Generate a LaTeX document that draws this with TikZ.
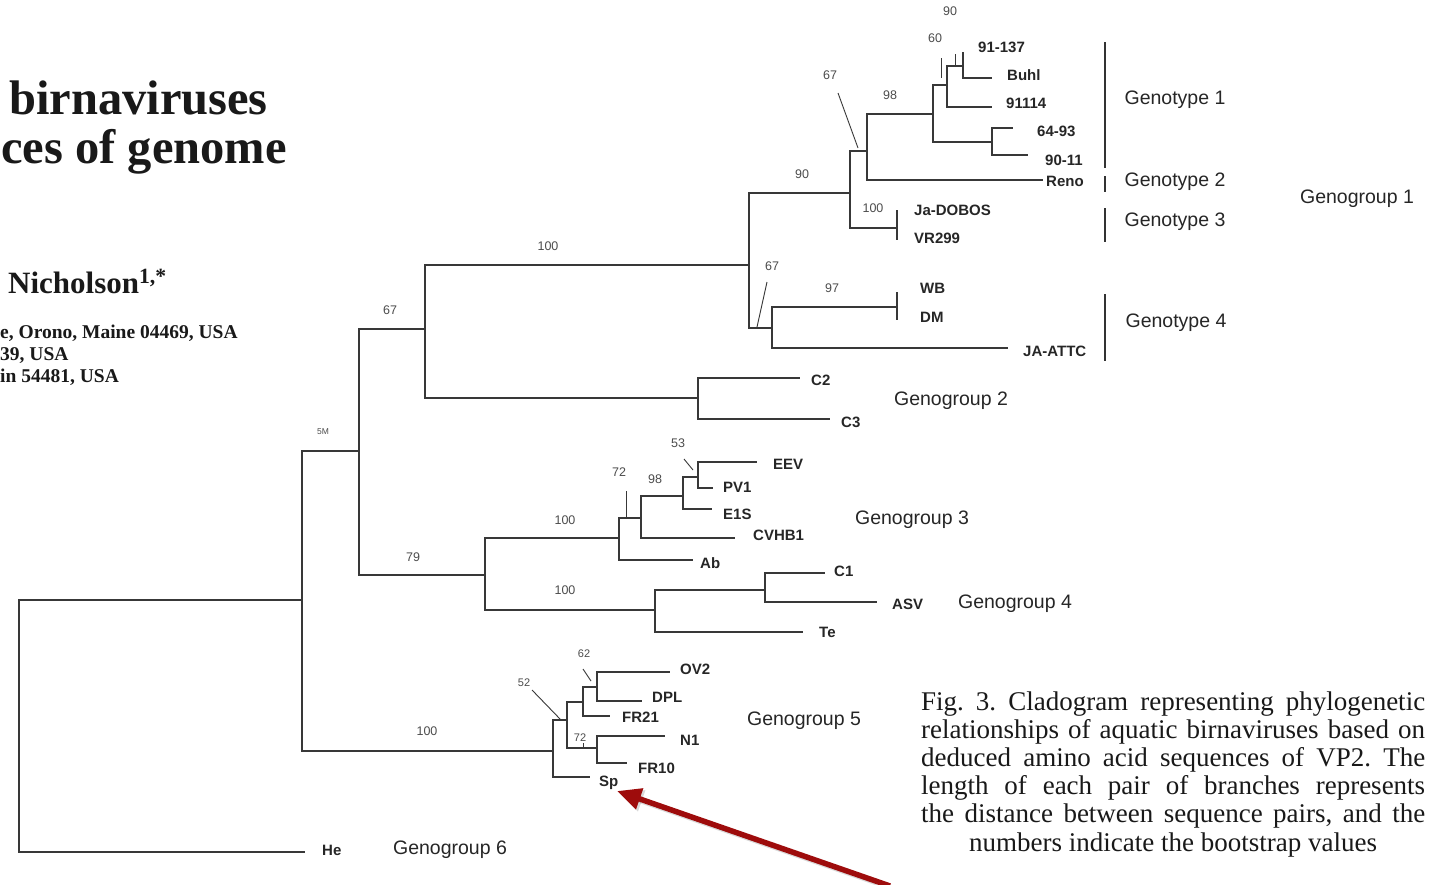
\documentclass[tikz,border=0pt]{standalone}
\usepackage{fontspec}
\setmainfont{Liberation Serif}
\newfontfamily\lsans{Liberation Sans}
\usetikzlibrary{arrows.meta}
\frenchspacing
\definecolor{treeline}{gray}{0.22}
\definecolor{arrowred}{RGB}{158,12,12}
\tikzset{
  br/.style={draw=treeline, line width=1.1pt},
  tickline/.style={draw=treeline, line width=0.9pt},
  bracket/.style={draw=black!80, line width=2.2pt},
  leaf/.style={anchor=west, inner sep=0pt, font=\lsans\bfseries\fontsize{15}{15}\selectfont, text=black!85},
  grp/.style={inner sep=0pt, font=\lsans\fontsize{19.5}{20}\selectfont, text=black!85},
  boot/.style={inner sep=0pt, font=\lsans\fontsize{12.5}{13}\selectfont, text=black!70},
  titletext/.style={inner sep=0pt, font=\bfseries\fontsize{48.5}{52}\selectfont, text=black!90},
  authtext/.style={inner sep=0pt, font=\bfseries\fontsize{31}{33}\selectfont, text=black!90},
  afftext/.style={inner sep=0pt, font=\bfseries\fontsize{19.5}{20}\selectfont, text=black!90},
  captext/.style={inner sep=0pt, font=\fontsize{27}{28}\selectfont, text=black!90},
  bigarrow/.style={draw=arrowred, line width=5.5pt, -{Triangle[length=24pt,width=21pt]}}
}
\begin{document}
\begin{tikzpicture}[x=1pt,y=-1pt]
\useasboundingbox (0,0) rectangle (1437,884);
\fill[white] (0,0) rectangle (1437,884);

% ---------- left title fragments ----------
\node[titletext, anchor=base east] (t1) at (268,114) {birnaviruses};
\node[titletext, anchor=base west] (t2) at (1,163) {ces of genome};
\node[authtext, anchor=base west] (au) at (8,293) {Nicholson\textsuperscript{1,*}};
\node[afftext, anchor=base west] (af1) at (0,338) {e, Orono, Maine 04469, USA};
\node[afftext, anchor=base west] (af2) at (0,360) {39, USA};
\node[afftext, anchor=base west] (af3) at (0,382) {in 54481, USA};

% ---------- tree coordinates ----------
\coordinate (R) at (19,726);
\coordinate (A) at (302,600);
\coordinate (tHe) at (305,852);
\coordinate (B) at (359,451);
\coordinate (G5) at (553,751);
\coordinate (C) at (425,329);
\coordinate (D) at (485,575);
\coordinate (G1) at (749,265);
\coordinate (G2) at (698,398);
\coordinate (tC2) at (800,378);
\coordinate (tC3) at (830,419);
\coordinate (E) at (850,193);
\coordinate (F) at (772,328);
\coordinate (H) at (867,151);
\coordinate (J) at (897,228);
\coordinate (tJa) at (897,210);
\coordinate (tVR) at (897,240);
\coordinate (K) at (933,114);
\coordinate (tReno) at (1043,180);
\coordinate (L) at (947,85);
\coordinate (M) at (992,142);
\coordinate (N) at (963,66);
\coordinate (t91114) at (992,107);
\coordinate (t91137) at (963,52);
\coordinate (tBuhl) at (992,78);
\coordinate (t6493) at (1013,128);
\coordinate (t9011) at (1028,155);
\coordinate (P) at (897,307);
\coordinate (tJAATTC) at (1008,348);
\coordinate (tWB) at (897,292);
\coordinate (tDM) at (897,320);
\coordinate (Q) at (619,538);
\coordinate (S) at (655,610);
\coordinate (T) at (641,518);
\coordinate (tAb) at (693,560);
\coordinate (U) at (683,496);
\coordinate (tCVHB1) at (735,538);
\coordinate (V) at (698,477);
\coordinate (tE1S) at (712,509);
\coordinate (tEEV) at (757,462);
\coordinate (tPV1) at (713,488);
\coordinate (W) at (765,590);
\coordinate (tTe) at (803,632);
\coordinate (tC1) at (825,573);
\coordinate (tASV) at (877,602);
\coordinate (X) at (567,720);
\coordinate (tSp) at (590,777);
\coordinate (Y) at (583,702);
\coordinate (Z) at (597,748);
\coordinate (AA) at (597,687);
\coordinate (tFR21) at (610,716);
\coordinate (tOV2) at (670,672);
\coordinate (tDPL) at (642,701);
\coordinate (tN1) at (665,736);
\coordinate (tFR10) at (627,763);

\foreach \p/\c in {R/A, R/tHe, A/B, A/G5, B/C, B/D, C/G1, C/G2, G2/tC2, G2/tC3,
  G1/E, G1/F, E/H, E/J, J/tJa, J/tVR, H/K, H/tReno, K/L, K/M, L/N, L/t91114,
  N/t91137, N/tBuhl, M/t6493, M/t9011, F/P, F/tJAATTC, P/tWB, P/tDM,
  D/Q, D/S, Q/T, Q/tAb, T/U, T/tCVHB1, U/V, U/tE1S, V/tEEV, V/tPV1,
  S/W, S/tTe, W/tC1, W/tASV, G5/X, G5/tSp, X/Y, X/Z, Y/AA, Y/tFR21,
  AA/tOV2, AA/tDPL, Z/tN1, Z/tFR10}
  \draw[br] (\p) |- (\c);

% ---------- leaf labels ----------
\node[leaf] (l91137) at (978,47) {91-137};
\node[leaf] (lBuhl) at (1007,75) {Buhl};
\node[leaf] (l91114) at (1006,103) {91114};
\node[leaf] (l6493) at (1037,131) {64-93};
\node[leaf] (l9011) at (1045,160) {90-11};
\node[leaf] (lReno) at (1046,181) {Reno};
\node[leaf] (lJa) at (914,210) {Ja-DOBOS};
\node[leaf] (lVR) at (914,238) {VR299};
\node[leaf] (lWB) at (920,288) {WB};
\node[leaf] (lDM) at (920,317) {DM};
\node[leaf] (lJAATTC) at (1023,351) {JA-ATTC};
\node[leaf] (lC2) at (811,380) {C2};
\node[leaf] (lC3) at (841,422) {C3};
\node[leaf] (lEEV) at (773,464) {EEV};
\node[leaf] (lPV1) at (723,487) {PV1};
\node[leaf] (lE1S) at (723,514) {E1S};
\node[leaf] (lCVHB1) at (753,535) {CVHB1};
\node[leaf] (lAb) at (700,563) {Ab};
\node[leaf] (lC1) at (834,571) {C1};
\node[leaf] (lASV) at (892,604) {ASV};
\node[leaf] (lTe) at (819,632) {Te};
\node[leaf] (lOV2) at (680,669) {OV2};
\node[leaf] (lDPL) at (652,697) {DPL};
\node[leaf] (lFR21) at (622,717) {FR21};
\node[leaf] (lN1) at (680,740) {N1};
\node[leaf] (lFR10) at (638,768) {FR10};
\node[leaf] (lSp) at (599,783) {Sp};
\node[leaf] (lHe) at (322,850) {He};

% ---------- group labels ----------
\node[grp] (gt1) at (1175,100) {Genotype 1};
\node[grp] (gt2) at (1175,182) {Genotype 2};
\node[grp] (gt3) at (1175,222) {Genotype 3};
\node[grp] (gt4) at (1176,323) {Genotype 4};
\node[grp] (gg1) at (1357,199) {Genogroup 1};
\node[grp] (gg2) at (951,401) {Genogroup 2};
\node[grp] (gg3) at (912,520) {Genogroup 3};
\node[grp] (gg4) at (1015,604) {Genogroup 4};
\node[grp] (gg5) at (804,721) {Genogroup 5};
\node[grp] (gg6) at (450,850) {Genogroup 6};

% ---------- brackets ----------
\draw[bracket] (1105,42) -- (1105,168);
\draw[bracket] (1105,176) -- (1105,192);
\draw[bracket] (1105,208) -- (1105,242);
\draw[bracket] (1105,294) -- (1105,361);

% ---------- bootstrap values ----------
\node[boot] (b1) at (950,11) {90};
\node[boot] (b2) at (935,38) {60};
\node[boot] (b3) at (830,75) {67};
\node[boot] (b4) at (890,95) {98};
\node[boot] (b5) at (802,174) {90};
\node[boot] (b6) at (873,208) {100};
\node[boot] (b7) at (772,266) {67};
\node[boot] (b8) at (832,288) {97};
\node[boot] (b9) at (548,246) {100};
\node[boot] (b10) at (390,310) {67};
\node[boot, font=\lsans\fontsize{8.5}{9}\selectfont] (b11) at (323,432) {5M};
\node[boot] (b12) at (413,557) {79};
\node[boot] (b13) at (678,443) {53};
\node[boot] (b14) at (619,472) {72};
\node[boot] (b15) at (655,479) {98};
\node[boot] (b16) at (565,520) {100};
\node[boot] (b17) at (565,590) {100};
\node[boot, font=\lsans\fontsize{11}{11}\selectfont] (b18) at (584,654) {62};
\node[boot, font=\lsans\fontsize{11}{11}\selectfont] (b19) at (524,683) {52};
\node[boot, font=\lsans\fontsize{11}{11}\selectfont] (b20) at (580,738) {72};
\node[boot] (b21) at (427,731) {100};

% ---------- bootstrap pointer ticks ----------
\draw[tickline] (941,58) -- (941,78);
\draw[tickline] (955,54) -- (955,66);
\draw[tickline] (838,93) -- (858,148);
\draw[tickline] (767,282) -- (757,327);
\draw[tickline] (684,459) -- (693,470);
\draw[tickline] (626,491) -- (626,518);
\draw[tickline] (583,669) -- (591,681);
\draw[tickline] (532,690) -- (561,720);
\draw[tickline] (583,743) -- (583,748);

% ---------- caption ----------
\node[captext, anchor=base west] (c1) at (921,710) {\makebox[504pt][s]{Fig. 3. Cladogram representing phylogenetic}};
\node[captext, anchor=base west] (c2) at (921,738.2) {\makebox[504pt][s]{relationships of aquatic birnaviruses based on}};
\node[captext, anchor=base west] (c3) at (921,766.4) {\makebox[504pt][s]{deduced amino acid sequences of VP2. The}};
\node[captext, anchor=base west] (c4) at (921,794.6) {\makebox[504pt][s]{length of each pair of branches represents}};
\node[captext, anchor=base west] (c5) at (921,822.8) {\makebox[504pt][s]{the distance between sequence pairs, and the}};
\node[captext, anchor=base] (c6) at (1173,851) {numbers indicate the bootstrap values};

% ---------- red arrow ----------
\coordinate (aTail) at (890,886);
\coordinate (aTip) at (617,791);
\draw[draw=black, opacity=0.15, line width=5.5pt, -{Triangle[length=24pt,width=21pt]}] ([shift={(2,2)}]aTail) -- ([shift={(2,2)}]aTip);
\draw[bigarrow] (aTail) -- (aTip);
\end{tikzpicture}
\end{document}
